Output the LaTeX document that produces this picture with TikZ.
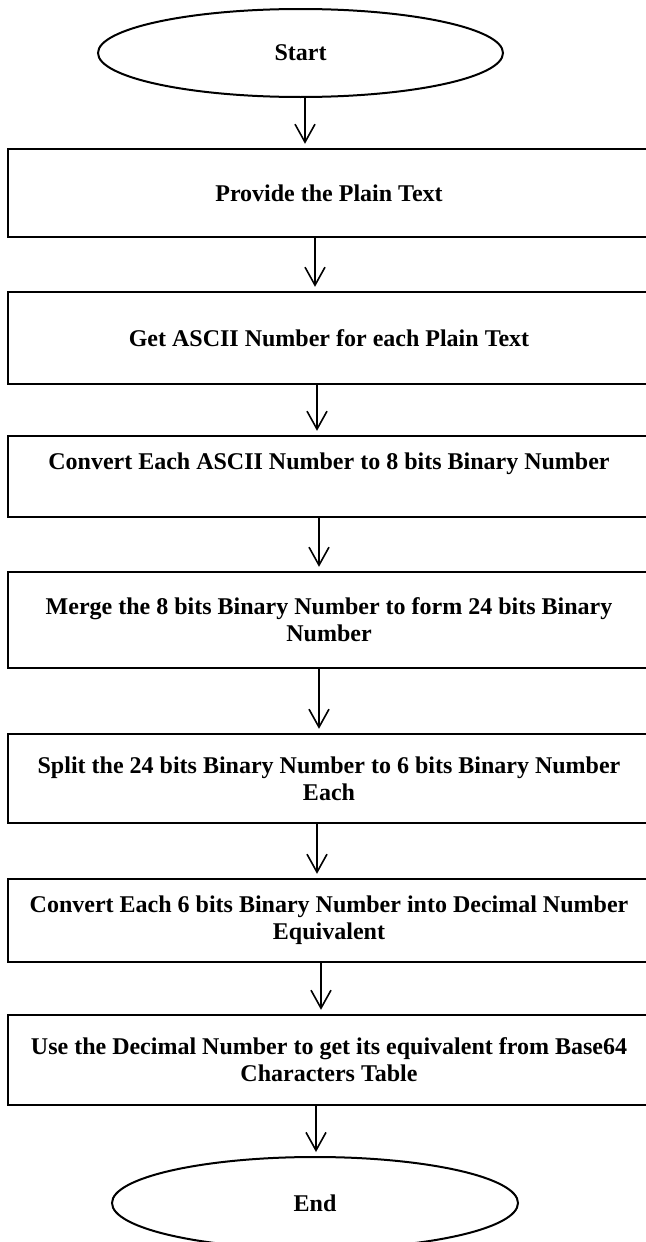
\documentclass[tikz,border=0pt]{standalone}
\usepackage{fontspec}
\setmainfont{Liberation Serif}
\usetikzlibrary{shapes.geometric,arrows.meta}
\begin{document}
\begin{tikzpicture}[x=0.5pt,y=-0.5pt,
  box/.style={draw, line width=1.2pt, minimum width=321pt, inner sep=0pt, align=center,
    font=\fontsize{12}{13.5}\selectfont\bfseries},
  oval/.style={draw, ellipse, line width=1pt, inner sep=0pt,
    font=\fontsize{12}{13.5}\selectfont\bfseries},
  arr/.style={line width=0.8pt, -{Straight Barb[length=9pt,width=10pt,line width=0.8pt]}, shorten >=2pt}]
\useasboundingbox (0,0) rectangle (646,1242);
\clip (0,0) rectangle (646,1242);
\node[oval, minimum width=202.5pt, minimum height=44pt] (start) at (300.5,53) {Start};
\node[box, minimum height=44pt] (b1) at (329,193) {Provide the Plain Text};
\node[box, minimum height=46pt] (b2) at (329,338) {Get ASCII Number for each Plain Text};
\node[box, minimum height=40.5pt, text depth=15pt] (b3) at (329,476.5) {Convert Each ASCII Number to 8 bits Binary Number};
\node[box, minimum height=48pt] (b4) at (329,620) {Merge the 8 bits Binary Number to form 24 bits Binary\\Number};
\node[box, minimum height=44.5pt] (b5) at (329,778.5) {Split the 24 bits Binary Number to 6 bits Binary Number\\Each};
\node[box, minimum height=41.5pt] (b6) at (329,920.5) {Convert Each 6 bits Binary Number into Decimal Number\\Equivalent};
\node[box, minimum height=45pt] (b7) at (329,1060) {Use the Decimal Number to get its equivalent from Base64\\Characters Table};
\node[oval, minimum width=203pt, minimum height=46pt] (end) at (315,1203) {End};
\draw[arr] ([xshift=2.25pt]start.south) -- ([xshift=-12pt]b1.north);
\draw[arr] ([xshift=-7pt]b1.south) -- ([xshift=-7pt]b2.north);
\draw[arr] ([xshift=-6pt]b2.south) -- ([xshift=-6pt]b3.north);
\draw[arr] ([xshift=-5pt]b3.south) -- ([xshift=-5pt]b4.north);
\draw[arr] ([xshift=-5pt]b4.south) -- ([xshift=-5pt]b5.north);
\draw[arr] ([xshift=-6pt]b5.south) -- ([xshift=-6pt]b6.north);
\draw[arr] ([xshift=-4pt]b6.south) -- ([xshift=-4pt]b7.north);
\draw[arr] ([xshift=-6.5pt]b7.south) -- ([xshift=0.5pt]end.north);
\end{tikzpicture}
\end{document}
